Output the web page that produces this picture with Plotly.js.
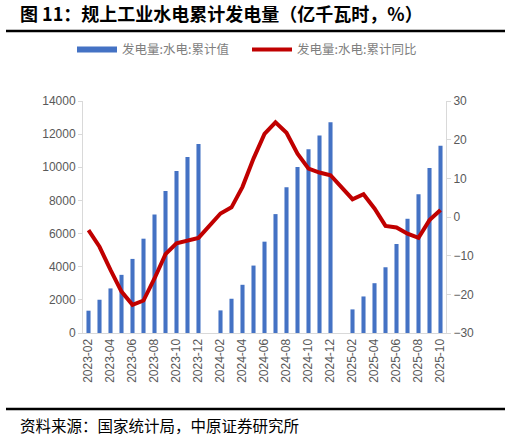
<!DOCTYPE html>
<html>
<head>
<meta charset="utf-8">
<script src="https://cdn.plot.ly/plotly-3.0.1.min.js"></script>
<style>html,body{margin:0;padding:0;background:#fff;}#chart{width:511px;height:441px;}</style>
</head>
<body>
<div id="chart"></div>
<script>
const months = ['2023-02','2023-03','2023-04','2023-05','2023-06','2023-07','2023-08','2023-09','2023-10','2023-11','2023-12',
  '2024-01','2024-02','2024-03','2024-04','2024-05','2024-06','2024-07','2024-08','2024-09','2024-10','2024-11','2024-12',
  '2025-01','2025-02','2025-03','2025-04','2025-05','2025-06','2025-07','2025-08','2025-09','2025-10'];
const cumValue = [1346,2007,2690,3509,4471,5691,7151,8576,9778,10619,11400,
  null,1364,2067,2909,4069,5511,7175,8798,10018,11081,11923,12722,
  null,1424,2205,3005,3967,5372,6893,8377,9958,11298];
const cumYoY = [-3.4,-7.7,-13.7,-19.3,-22.7,-21.6,-15.9,-9.6,-6.8,-6.0,-5.4,
  null,0.9,2.5,7.8,15.1,21.5,24.5,21.8,16.4,12.5,11.5,10.8,
  null,4.6,5.9,2.2,-2.3,-2.7,-4.3,-5.4,-0.8,1.8];
const tickLabels = ['2023-02','2023-04','2023-06','2023-08','2023-10','2023-12','2024-02','2024-04','2024-06','2024-08','2024-10','2024-12','2025-02','2025-04','2025-06','2025-08','2025-10'];
const seriesNames = ['发电量:水电:累计值','发电量:水电:累计同比'];

const blue = '#4472C4', red = '#C00000', gray = '#595959';
const tickFont = {family:'"Liberation Sans", Arial, sans-serif', size:12, color:gray};

const traces = [
  {type:'bar', x:months, y:cumValue, name:seriesNames[0], marker:{color:blue}, showlegend:false, yaxis:'y', hoverinfo:'skip'},
  {type:'scatter', mode:'lines', x:months, y:cumYoY, name:seriesNames[1], line:{color:red, width:4}, connectgaps:true, yaxis:'y2', showlegend:false},
  {type:'scatter', mode:'lines', x:[null], y:[null], name:seriesNames[0], line:{color:blue, width:6}, yaxis:'y'},
  {type:'scatter', mode:'lines', x:[null], y:[null], name:seriesNames[1], line:{color:red, width:4}, yaxis:'y2'}
];

const layout = {
  width:511, height:441,
  margin:{l:83, r:65, t:101, b:108},
  paper_bgcolor:'#fff', plot_bgcolor:'#fff',
  bargap:0.63,
  showlegend:true,
  legend:{orientation:'h', x:(72-83)/363, xanchor:'left', y:1.22, yanchor:'middle', entrywidth:120, entrywidthmode:'pixels',
    font:{family:'"Noto Sans CJK SC", sans-serif', size:12.5, color:'#7f7f7f'}, itemwidth:40, tracegroupgap:0, traceorder:'normal'},
  title:{text:'<b>图 11：规上工业水电累计发电量（亿千瓦时，%）</b>', x:20/511, xanchor:'left', xref:'container',
    y:1-15/441, yanchor:'middle', yref:'container', font:{family:'"Noto Sans CJK SC", sans-serif', size:18, color:'#000'}},
  xaxis:{type:'category', categoryorder:'array', categoryarray:months, tickmode:'array', tickvals:tickLabels, ticktext:tickLabels,
    tickangle:-90, tickfont:tickFont, showline:true, linecolor:'#D9D9D9', linewidth:1, ticks:'', showgrid:false, zeroline:false,
    range:[-0.5, months.length-0.5]},
  yaxis:{range:[0,14000], dtick:2000, tickformat:'d', tickfont:tickFont, showline:true, linecolor:'#D9D9D9', linewidth:1, ticks:'outside',
    ticklen:4, tickcolor:'#D9D9D9', showgrid:false, zeroline:false},
  yaxis2:{overlaying:'y', side:'right', range:[-30,30], dtick:10, tickfont:tickFont, showline:true, linecolor:'#D9D9D9', linewidth:1,
    ticks:'outside', ticklen:4, tickcolor:'#D9D9D9', showgrid:false, zeroline:false},
  shapes:[
    {type:'line', xref:'paper', yref:'paper', x0:(6-83)/363, x1:(505-83)/363, y0:(333-31)/232, y1:(333-31)/232, line:{color:'#000', width:2.5}},
    {type:'line', xref:'paper', yref:'paper', x0:(6-83)/363, x1:(505-83)/363, y0:(333-409)/232, y1:(333-409)/232, line:{color:'#000', width:2.5}}
  ],
  annotations:[
    {text:'资料来源：国家统计局，中原证券研究所', xref:'paper', yref:'paper', x:(18-83)/363, xanchor:'left', y:(333-425)/232, yanchor:'middle',
     showarrow:false, font:{family:'"Noto Sans CJK SC", serif', size:15.5, color:'#000'}}
  ]
};

Plotly.newPlot('chart', traces, layout, {displayModeBar:false, staticPlot:true});
</script>
</body>
</html>
